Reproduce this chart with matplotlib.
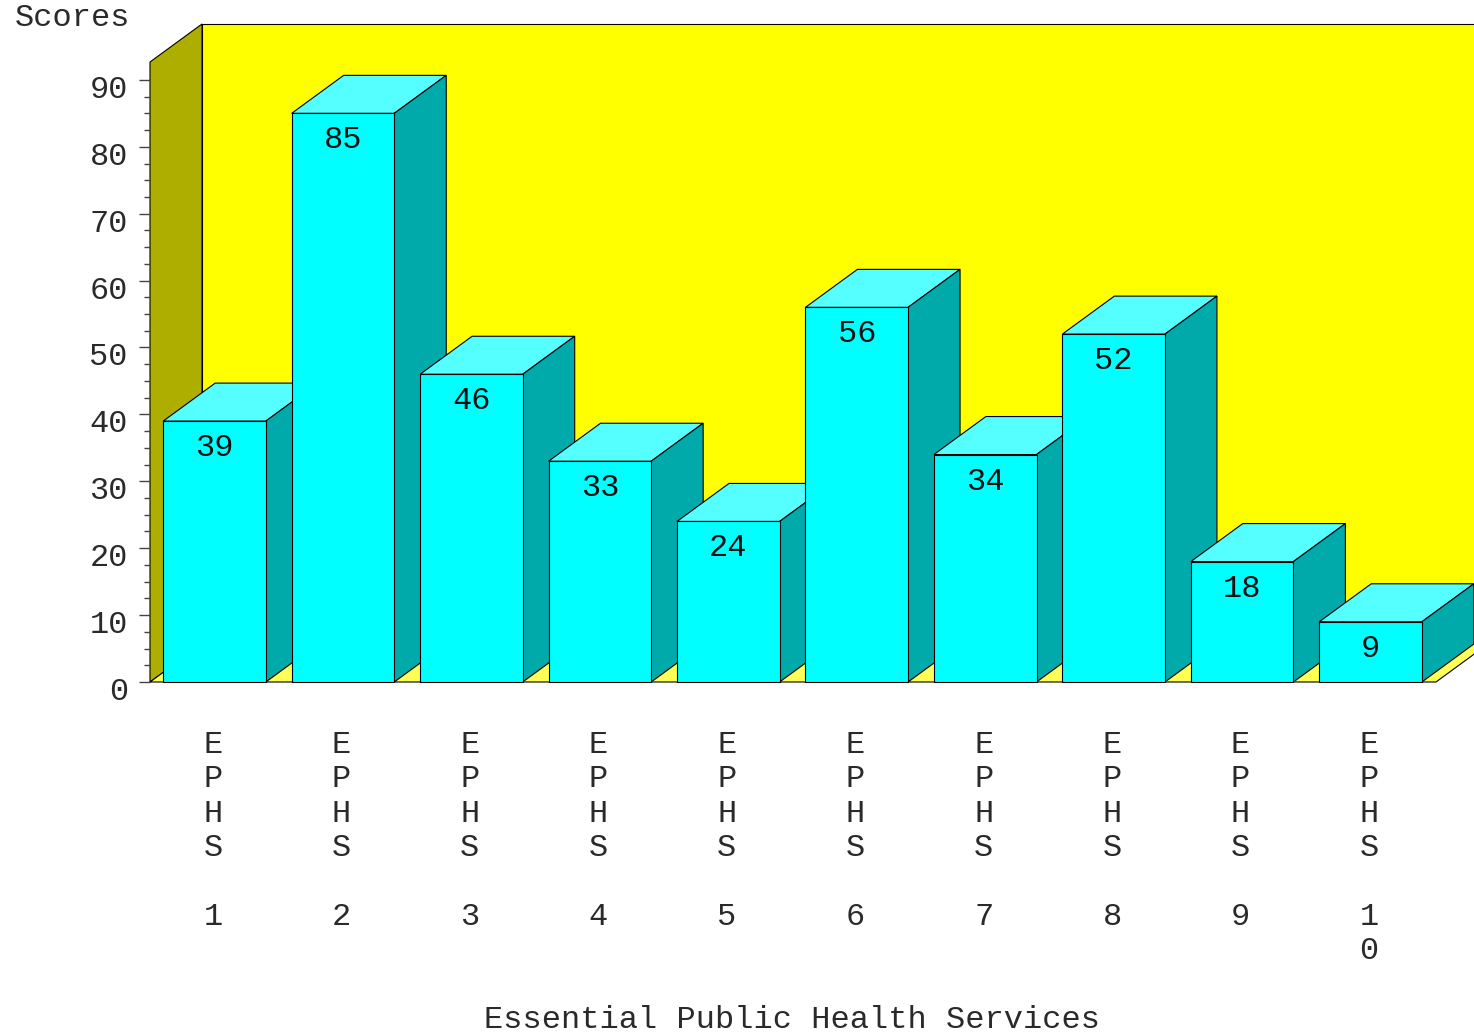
import matplotlib
matplotlib.use("Agg")
import matplotlib.pyplot as plt
from matplotlib.patches import Polygon

categories = ["EPHS 1", "EPHS 2", "EPHS 3", "EPHS 4", "EPHS 5", "EPHS 6", "EPHS 7", "EPHS 8", "EPHS 9", "EPHS 10"]
scores = [39, 85, 46, 33, 24, 56, 34, 52, 18, 9]
major_ticks = [0, 10, 20, 30, 40, 50, 60, 70, 80, 90]
minor_ticks = [m + k for m in major_ticks[:-1] for k in (2.5, 5, 7.5)]
y_title = "Scores"
x_title = "Essential Public Health Services"

W, H = 1474, 1032
X0, STEP = 214.5, 128.45   # px of first bar centre, px between bars
Y0, UNIT = 682, 6.69       # px of score 0, px per score unit
DX, DY = 52 / STEP, 38 / UNIT  # depth of the 3d look

FONT = "Liberation Mono"
FS = 23
LW = 0.8
TXT = "#2a2a2a"


def xp(px):
    return (px - X0) / STEP


def yp(py):
    return (Y0 - py) / UNIT


fig = plt.figure(figsize=(W / 100, H / 100), dpi=100)
ax = fig.add_axes([0, 0, 1, 1])
ax.set_xlim(xp(0), xp(W))
ax.set_ylim(yp(H), yp(0))
ax.axis("off")

left, right, top = xp(150), xp(1436), yp(62)

# walls and floor
ax.add_patch(Polygon([(left + DX, DY), (right + DX, DY), (right + DX, top + DY), (left + DX, top + DY)],
                     fc="#ffff00", ec="black", lw=LW, zorder=1))
ax.add_patch(Polygon([(left, 0), (left + DX, DY), (left + DX, top + DY), (left, top)],
                     fc="#aeae00", ec="black", lw=LW, zorder=1))
ax.add_patch(Polygon([(left, 0), (right, 0), (right + DX, DY), (left + DX, DY)],
                     fc="#ffff55", ec="black", lw=LW, zorder=1))

# y axis ticks
for t in major_ticks:
    ax.plot([xp(139), left], [t, t], color="#444444", lw=1.0, zorder=1, solid_capstyle="butt")
    ax.text(xp(128), t - 10 / UNIT, str(t), ha="right", va="center", family=FONT, fontsize=FS, color=TXT)
for t in minor_ticks:
    ax.plot([xp(144), left], [t, t], color="#444444", lw=1.0, zorder=1, solid_capstyle="butt")

# bars, left to right so the next one covers the last one's side
half = 51.3 / STEP
for i, v in enumerate(scores):
    z = 2 + i
    ax.add_patch(Polygon([(i - half, v), (i + half, v), (i + half + DX, v + DY), (i - half + DX, v + DY)],
                         fc="#55ffff", ec="black", lw=LW, zorder=z))
    ax.add_patch(Polygon([(i + half, 0), (i + half + DX, DY), (i + half + DX, v + DY), (i + half, v)],
                         fc="#00aaaa", ec="black", lw=LW, zorder=z))
    ax.bar(i, v, width=2 * half, color="#00ffff", edgecolor="black", linewidth=LW, zorder=z)
    ax.text(i, v - 27 / UNIT, str(v), ha="center", va="center", family=FONT, fontsize=FS, color="#111111", zorder=z + 0.5)

    # category label, one character per line
    for j, ch in enumerate(categories[i]):
        if ch != " ":
            ax.text(i - 1.5 / STEP, yp(745 + j * 34.35), ch, ha="center", va="center", family=FONT, fontsize=FS, color=TXT)

ax.text(xp(15), yp(18), y_title, ha="left", va="center", family=FONT, fontsize=FS, color=TXT)
ax.text(xp(792), yp(1020), x_title, ha="center", va="center", family=FONT, fontsize=FS, color=TXT)

fig.savefig("out.png", dpi=100)
